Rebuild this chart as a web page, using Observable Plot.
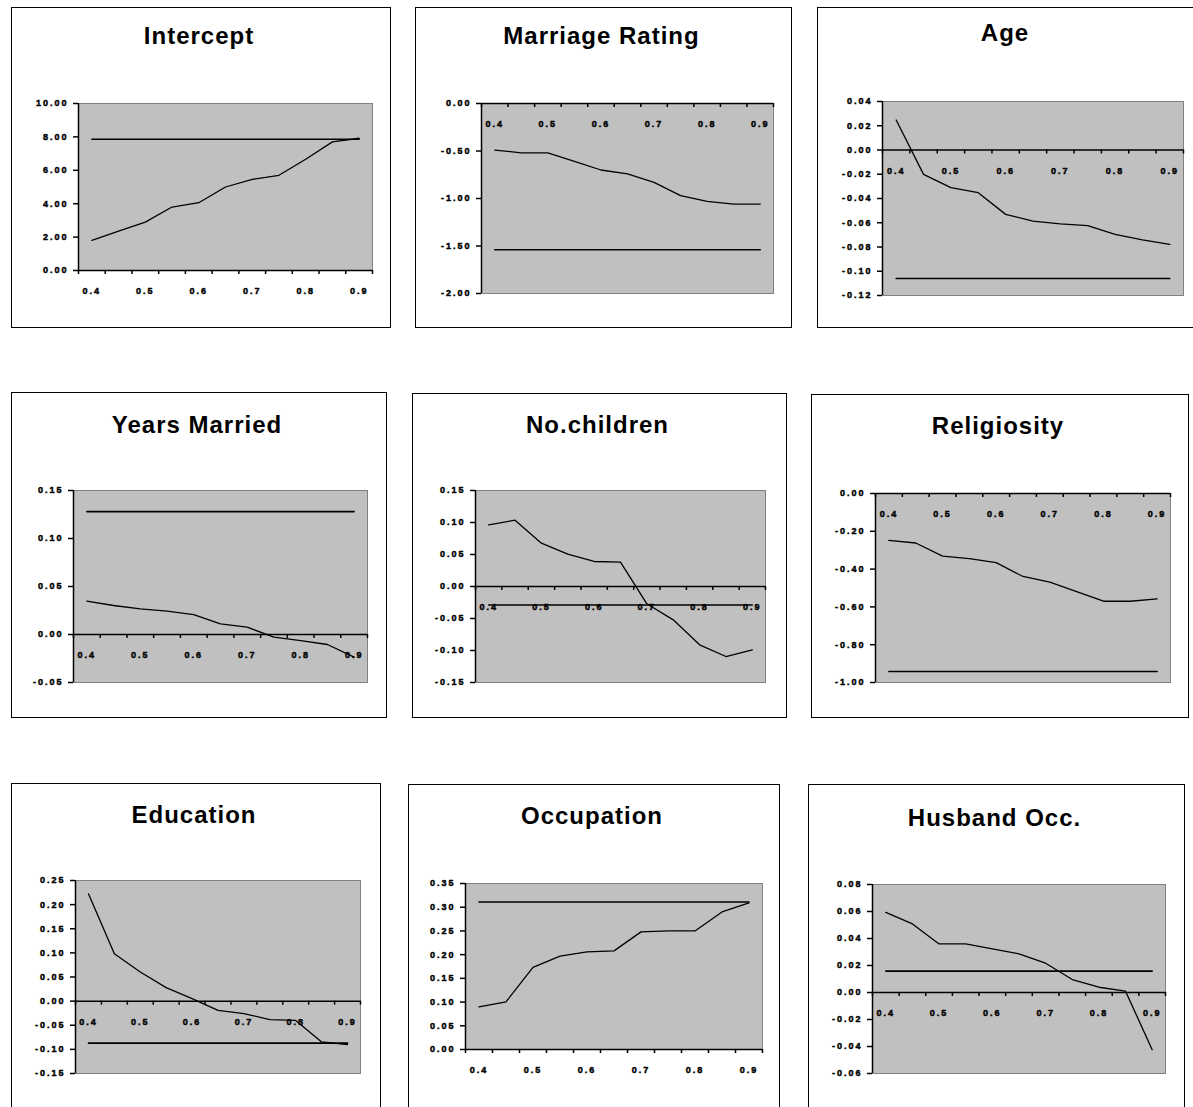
<!DOCTYPE html>
<html>
<head>
<meta charset="utf-8">
<script src="https://cdn.jsdelivr.net/npm/d3@7"></script>
<script src="https://cdn.jsdelivr.net/npm/@observablehq/plot@0.6"></script>
<style>
  body { margin: 0; background: #fff; }
  #root { position: relative; width: 1193px; height: 1107px; overflow: hidden; background: #fff; }
  .box { position: absolute; border: 1.5px solid #000; box-sizing: border-box; background: #fff; }
  .title { position: absolute; font: bold 24px "Liberation Sans", Arial, sans-serif; letter-spacing: 1px;
           white-space: nowrap; transform: translateX(-50%); line-height: 24px; color: #000; }
  svg { position: absolute; }
  svg text { stroke: #000; stroke-width: 0.45px; }
</style>
</head>
<body>
<div id="root"></div>
<script>
// ---- data ----
const quantiles = [0.40, 0.45, 0.50, 0.55, 0.60, 0.65, 0.70, 0.75, 0.80, 0.85, 0.90];
const xTickLabels = [0.4, 0.5, 0.6, 0.7, 0.8, 0.9];

const panelTitles = ["Intercept", "Marriage Rating", "Age", "Years Married", "No.children",
                     "Religiosity", "Education", "Occupation", "Husband Occ."];

const interceptQ      = [1.80, 2.36, 2.90, 3.80, 4.06, 5.00, 5.46, 5.70, 6.66, 7.70, 7.92];
const marriageRatingQ = [-0.49, -0.52, -0.52, -0.61, -0.70, -0.74, -0.83, -0.97, -1.03, -1.06, -1.06];
const ageQ            = [0.0247, -0.0201, -0.0311, -0.0352, -0.0531, -0.0586, -0.0610, -0.0624, -0.0696, -0.0742, -0.0778];
const yearsMarriedQ   = [0.0347, 0.0302, 0.0267, 0.0243, 0.0208, 0.0111, 0.0076, -0.0028, -0.0063, -0.0104, -0.0236];
const noChildrenQ     = [0.0964, 0.1036, 0.0677, 0.0505, 0.0391, 0.0380, -0.0270, -0.0521, -0.0911, -0.1094, -0.0990];
const religiosityQ    = [-0.248, -0.262, -0.331, -0.345, -0.366, -0.439, -0.469, -0.519, -0.570, -0.570, -0.558];
const educationQ      = [0.2224, 0.0983, 0.0603, 0.0280, 0.0052, -0.0190, -0.0259, -0.0383, -0.0400, -0.0845, -0.0900];
const occupationQ     = [0.090, 0.1005, 0.173, 0.197, 0.206, 0.208, 0.248, 0.250, 0.250, 0.290, 0.309];
const husbandOccQ     = [0.0594, 0.0508, 0.0360, 0.0360, 0.0323, 0.0286, 0.0217, 0.0096, 0.0039, 0.0010, -0.0424];

const olsEstimates = [7.86, -1.54, -0.106, 0.128, -0.029, -0.942, -0.087, 0.311, 0.0158];

const yTicksIntercept = [0, 2, 4, 6, 8, 10];
const yTicksMarriage  = [-2, -1.5, -1, -0.5, 0];
const yTicksAge       = [-0.12, -0.10, -0.08, -0.06, -0.04, -0.02, 0, 0.02, 0.04];
const yTicksYears     = [-0.05, 0, 0.05, 0.10, 0.15];
const yTicksChildren  = [-0.15, -0.10, -0.05, 0, 0.05, 0.10, 0.15];
const yTicksRelig     = [-1, -0.8, -0.6, -0.4, -0.2, 0];
const yTicksEducation = [-0.15, -0.10, -0.05, 0, 0.05, 0.10, 0.15, 0.20, 0.25];
const yTicksOccup     = [0, 0.05, 0.10, 0.15, 0.20, 0.25, 0.30, 0.35];
const yTicksHusband   = [-0.06, -0.04, -0.02, 0, 0.02, 0.04, 0.06, 0.08];

const seriesList = [interceptQ, marriageRatingQ, ageQ, yearsMarriedQ, noChildrenQ,
                    religiosityQ, educationQ, occupationQ, husbandOccQ];
const yTickList = [yTicksIntercept, yTicksMarriage, yTicksAge, yTicksYears, yTicksChildren,
                   yTicksRelig, yTicksEducation, yTicksOccup, yTicksHusband];

// ---- layout (page pixels) ----
const layout = [
  {box: [11, 7, 391, 328],    plot: [78, 103, 372, 270],   titleY: 43},
  {box: [415, 7, 792, 328],   plot: [481, 103, 773, 293],  titleY: 43},
  {box: [817, 7, 1200, 328],  plot: [882, 101, 1183, 295], titleY: 40},
  {box: [11, 392, 387, 718],  plot: [73, 490, 367, 682],   titleY: 432},
  {box: [412, 393, 787, 718], plot: [475, 490, 765, 682],  titleY: 432},
  {box: [811, 394, 1189, 718],plot: [875, 493, 1170, 682], titleY: 433},
  {box: [11, 783, 381, 1115], plot: [75, 880, 360, 1073],  titleY: 822},
  {box: [408, 784, 780, 1115],plot: [465, 883, 762, 1049], titleY: 823},
  {box: [808, 784, 1185, 1115],plot:[872, 884, 1165, 1073],titleY: 825}
];

const step = quantiles[1] - quantiles[0];
const xDomain = [quantiles[0] - step / 2, quantiles[quantiles.length - 1] + step / 2];
const boundaries = d3.range(quantiles.length + 1).map(i => xDomain[0] + i * step);

const root = document.getElementById("root");

panelTitles.forEach((title, k) => {
  const L = layout[k];
  const [bx0, by0, bx1, by1] = L.box;
  const [px0, py0, px1, py1] = L.plot;

  const box = document.createElement("div");
  box.className = "box";
  Object.assign(box.style, {left: bx0 + "px", top: by0 + "px", width: (bx1 - bx0) + "px", height: (by1 - by0) + "px"});
  root.appendChild(box);

  const t = document.createElement("div");
  t.className = "title";
  t.textContent = title;
  Object.assign(t.style, {left: ((bx0 + Math.min(bx1, 1197)) / 2 - 2) + "px", top: (L.titleY - 19) + "px"});
  root.appendChild(t);

  const ticks = yTickList[k];
  const rows = quantiles.map((q, i) => ({q, v: seriesList[k][i], ols: olsEstimates[k]}));
  const fmt = d => d.toFixed(2);

  const chart = Plot.plot({
    width: bx1 - bx0,
    height: by1 - by0,
    marginLeft: px0 - bx0,
    marginRight: bx1 - px1,
    marginTop: py0 - by0,
    marginBottom: by1 - py1,
    style: {fontFamily: "'Liberation Sans', Arial, sans-serif", fontSize: "9px", fontWeight: "bold",
            letterSpacing: "2px", background: "transparent", overflow: "visible", color: "#000"},
    x: {domain: xDomain, axis: null},
    y: {domain: [ticks[0], ticks[ticks.length - 1]], axis: null},
    marks: [
      Plot.frame({fill: "#c0c0c0", stroke: "#808080", strokeWidth: 1}),
      Plot.ruleY([0], {stroke: "#000", strokeWidth: 1.5}),
      Plot.ruleX(boundaries, {x: d => d, y1: 0, y2: 0, insetTop: 0, insetBottom: -4, stroke: "#000", strokeWidth: 1.5}),
      Plot.text(xTickLabels, {x: d => d, y: 0, dy: 21, text: d => d.toFixed(1), textAnchor: "middle", fill: "#000"}),
      Plot.line(rows, {x: "q", y: "ols", stroke: "#000", strokeWidth: 1.6}),
      Plot.line(rows, {x: "q", y: "v", stroke: "#000", strokeWidth: 1.3}),
      Plot.ruleX([xDomain[0]], {stroke: "#000", strokeWidth: 1.5}),
      Plot.axisY(ticks, {tickFormat: fmt, tickSize: 5, tickPadding: 5, strokeWidth: 1.5, stroke: "#000", fill: "#000"})
    ]
  });
  Object.assign(chart.style, {left: bx0 + "px", top: by0 + "px"});
  root.appendChild(chart);
});
</script>
</body>
</html>
